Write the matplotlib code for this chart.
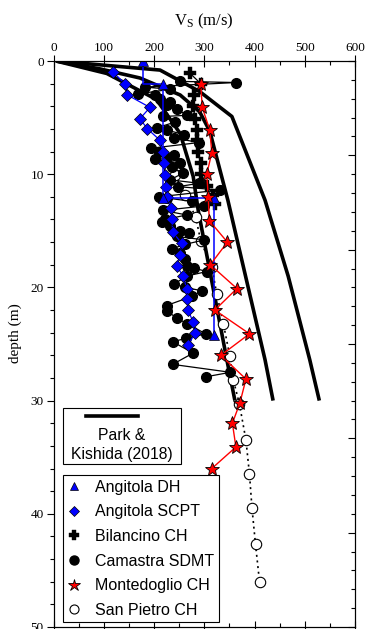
import matplotlib
matplotlib.use("Agg")
import matplotlib.pyplot as plt
from matplotlib.lines import Line2D
from matplotlib.patches import Rectangle
from matplotlib.ticker import MultipleLocator

plt.rcParams['font.family'] = 'Liberation Serif'
plt.rcParams['mathtext.fontset'] = 'custom'
plt.rcParams['mathtext.rm'] = 'Liberation Serif'

# Park & Kishida (2018) reference profiles (three Vs30 levels)
pk_low_vs = [5, 106, 205, 252, 278, 288, 345, 361]
pk_low_z = [0, 1.1, 3.4, 6.4, 10.2, 13.2, 26.4, 30]
pk_mid_vs = [5, 93, 172, 252, 291, 311, 347, 421, 437]
pk_mid_z = [0, 0.7, 1.5, 3.0, 4.5, 6.2, 12.3, 26.4, 30]
pk_high_vs = [5, 212, 291, 355, 421, 467, 510, 529]
pk_high_z = [0, 0.8, 2.7, 4.9, 12.3, 19.0, 26.4, 30]

# Angitola DH (layered profile)
ang_dh_vs = [179, 179, 218, 218, 320, 320]
ang_dh_z = [0, 2.0, 2.0, 12.1, 12.1, 24.2]
ang_dh_marks = [0, 2, 3, 4, 5]

# Angitola SCPT
ang_scpt_vs = [119, 142, 147, 192, 172, 187, 212, 217, 219, 222, 224, 226, 233,
               236, 237, 255, 252, 245, 258, 265, 266, 268, 278, 282, 268]
ang_scpt_z = [1.0, 2.0, 3.0, 4.1, 5.1, 6.0, 7.0, 8.0, 9.0, 10.1, 11.1, 12.0, 13.0,
              14.0, 15.1, 16.1, 17.1, 18.1, 19.0, 20.1, 21.0, 22.0, 23.1, 24.0, 25.1]

# Bilancino CH
bil_vs = [272, 293, 280, 278, 282, 285, 285, 287, 293, 294, 305, 318, 322]
bil_z = [1.1, 2.0, 3.0, 4.0, 5.1, 6.1, 7.0, 8.0, 9.0, 10.0, 11.0, 11.8, 12.6]

# Camastra SDMT
cam_vs = [252, 364, 182, 232, 169, 202, 212, 232, 225, 245, 265, 218, 242, 205,
          225, 260, 239, 290, 195, 209, 240, 225, 202, 252, 236, 258, 232, 290,
          248, 331, 209, 225, 275, 300, 218, 265, 222, 215, 232, 252, 270, 245,
          300, 262, 235, 252, 262, 265, 280, 305, 265, 240, 262, 295, 275, 225,
          225, 246, 265, 303, 264, 237, 278, 237, 352, 303]
cam_z = [1.8, 1.9, 2.3, 2.5, 2.9, 3.0, 3.4, 3.6, 3.9, 4.2, 4.8, 4.9, 5.4, 5.9,
         6.1, 6.5, 6.8, 7.2, 7.7, 8.0, 8.3, 8.6, 8.7, 9.0, 9.4, 9.9, 10.5, 10.8,
         11.1, 11.4, 12.0, 12.1, 12.4, 12.8, 13.2, 13.6, 14.0, 14.2, 14.6, 15.0, 15.2, 15.5,
         15.8, 16.2, 16.6, 17.0, 17.5, 18.1, 18.3, 18.6, 19.0, 19.7, 20.0, 20.3, 20.8, 21.6,
         22.1, 22.7, 23.2, 24.1, 24.5, 24.8, 25.8, 26.8, 27.5, 27.9]

# Montedoglio CH
mon_vs = [293, 296, 311, 315, 305, 308, 310, 346, 312, 365, 321, 390, 333, 383,
          371, 356, 363, 315]
mon_z = [2.0, 4.1, 6.1, 8.1, 10.0, 12.0, 14.1, 16.0, 18.0, 20.1, 22.0, 24.1, 26.0, 28.1,
         30.2, 32.0, 34.1, 36.0]

# San Pietro CH
sp_vs = [242, 262, 283, 293, 315, 325, 338, 351, 358, 370, 383, 390, 395, 402, 410]
sp_z = [10.1, 11.8, 13.8, 15.9, 18.2, 20.6, 23.2, 26.1, 28.2, 30.3, 33.5, 36.5, 39.5,
        42.7, 46.0]

fig = plt.figure(figsize=(3.65, 6.29), dpi=100)
ax = fig.add_axes([0.1466, 0.0032, 0.826, 0.8998])

for vs, z in [(pk_low_vs, pk_low_z), (pk_mid_vs, pk_mid_z), (pk_high_vs, pk_high_z)]:
    ax.plot(vs, z, color='black', lw=2.6, zorder=2, solid_capstyle='butt')

ax.plot(sp_vs, sp_z, color='black', ls=(0, (1.2, 2.2)), lw=1.2, marker='o', ms=7.5,
        mfc='white', mec='black', mew=0.8, zorder=3)
ax.plot(cam_vs, cam_z, color='black', lw=0.9, marker='o', ms=7,
        mfc='black', mec='black', zorder=4)
ax.plot(bil_vs, bil_z, color='black', lw=0.9, marker='P', ms=8,
        mfc='black', mec='black', mew=0.3, zorder=4)
ax.plot(ang_scpt_vs, ang_scpt_z, color='blue', lw=0.9, marker='D', ms=6.3,
        mfc='blue', mec='black', mew=0.5, zorder=5)
ax.plot(ang_dh_vs, ang_dh_z, color='blue', lw=1.1, marker='^', ms=7.5,
        mfc='blue', mec='black', mew=0.5, markevery=ang_dh_marks, zorder=5)
ax.plot(mon_vs, mon_z, color='red', lw=1.0, marker='*', ms=10.5,
        mfc='red', mec='black', mew=0.6, zorder=6)

ax.set_xlim(0, 600)
ax.set_ylim(50, 0)
ax.xaxis.tick_top()
ax.xaxis.set_label_position('top')
ax.xaxis.set_major_locator(MultipleLocator(100))
ax.xaxis.set_minor_locator(MultipleLocator(50))
ax.yaxis.set_major_locator(MultipleLocator(10))
ax.yaxis.set_minor_locator(MultipleLocator(2))
ax.tick_params(axis='x', which='major', direction='inout', length=8, width=0.8,
               top=True, bottom=True, labelsize=9.5, pad=1)
ax.tick_params(axis='x', which='minor', direction='in', length=3, width=0.8,
               top=True, bottom=True)
ax.tick_params(axis='y', which='major', direction='out', length=5, width=0.8,
               left=True, right=False, labelsize=9.5, pad=2)
ax.tick_params(axis='y', which='minor', direction='out', length=3, width=0.8,
               left=True, right=False)
for s in ax.spines.values():
    s.set_linewidth(0.8)

ax2 = ax.twinx()
ax2.set_ylim(50, 0)
ax2.yaxis.set_major_locator(MultipleLocator(50 / 6))
ax2.yaxis.set_minor_locator(MultipleLocator(50 / 30))
ax2.tick_params(axis='y', which='major', direction='in', length=5, width=0.8, labelright=False)
ax2.tick_params(axis='y', which='minor', direction='in', length=3, width=0.8)

ax.set_xlabel(r'$\mathrm{V_S}$ (m/s)', fontsize=12, labelpad=12)
ax.set_ylabel('depth (m)', fontsize=11)
ax.yaxis.set_label_coords(-0.105, 0.52)

# Park & Kishida legend box
ax.add_patch(Rectangle((0.0325, 0.288), 0.3894, 0.0995, transform=ax.transAxes,
                       fill=False, ec='black', lw=0.8, zorder=7))
ax.add_line(Line2D([0.107, 0.279], [0.3733, 0.3733], transform=ax.transAxes,
                   color='black', lw=2.6, zorder=7))
ax.text(0.2272, 0.3375, 'Park &', transform=ax.transAxes, ha='center', va='center',
        family='Liberation Sans', fontsize=11.3, zorder=7)
ax.text(0.2272, 0.305, 'Kishida (2018)', transform=ax.transAxes, ha='center', va='center',
        family='Liberation Sans', fontsize=11.3, zorder=7)

handles = [
    Line2D([], [], ls='none', marker='^', ms=6, mfc='blue', mec='black', mew=0.5),
    Line2D([], [], ls='none', marker='D', ms=5, mfc='blue', mec='black', mew=0.5),
    Line2D([], [], ls='none', marker='P', ms=6.5, mfc='black', mec='black', mew=0.3),
    Line2D([], [], ls='none', marker='o', ms=6.5, mfc='black', mec='black'),
    Line2D([], [], ls='none', marker='*', ms=9, mfc='red', mec='black', mew=0.6),
    Line2D([], [], ls='none', marker='o', ms=6.5, mfc='white', mec='black', mew=0.8),
]
labels = ['Angitola DH', 'Angitola SCPT', 'Bilancino CH', 'Camastra SDMT',
          'Montedoglio CH', 'San Pietro CH']
leg = ax.legend(handles, labels, loc='upper left', bbox_to_anchor=(0.0305, 0.2686),
                borderaxespad=0, borderpad=0.3, handlelength=0.85, handletextpad=0.85,
                labelspacing=0.6, fancybox=False, edgecolor='black', framealpha=1,
                prop={'family': 'Liberation Sans', 'size': 11.5})
leg.get_frame().set_linewidth(0.8)
leg.set_zorder(8)

fig.savefig('out.png', dpi=100)
